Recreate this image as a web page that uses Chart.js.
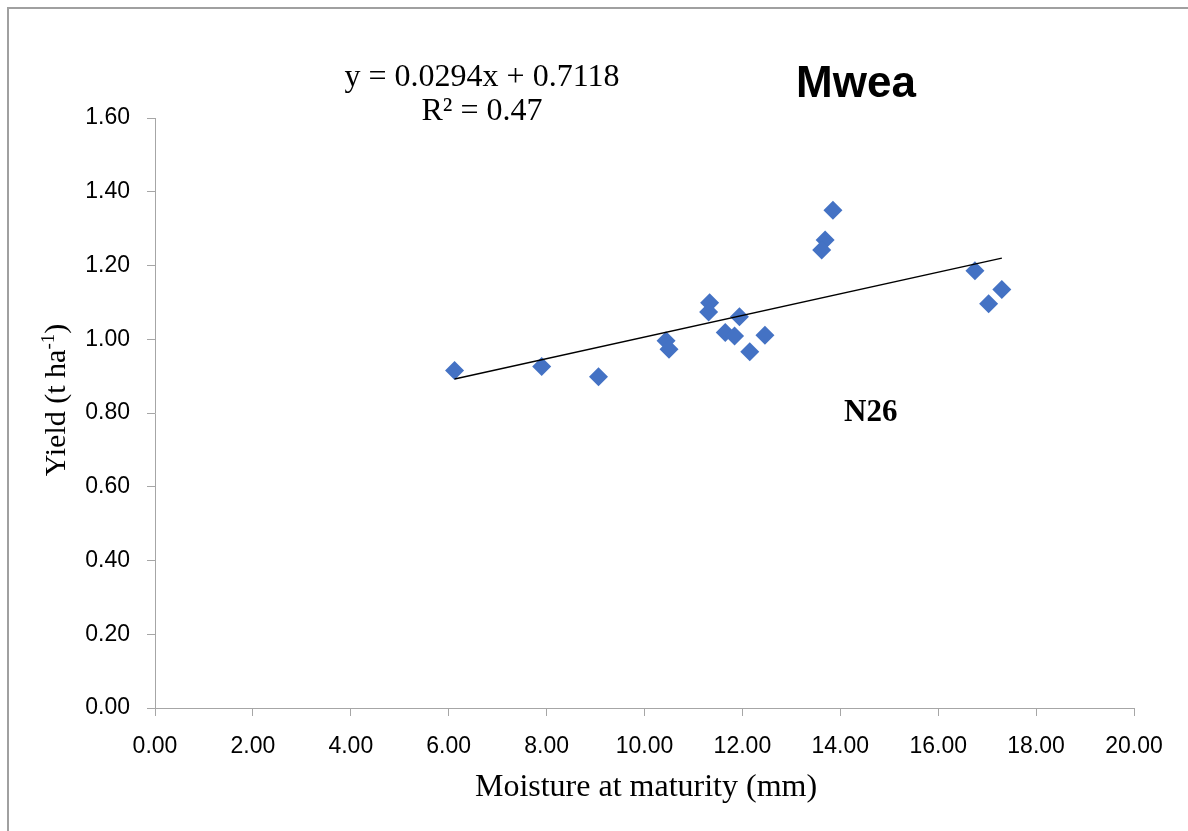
<!DOCTYPE html>
<html>
<head>
<meta charset="utf-8">
<script src="https://cdn.jsdelivr.net/npm/chart.js@4.4.1/dist/chart.umd.min.js"></script>
<style>
  html, body { margin: 0; padding: 0; background: #fff; }
  #wrap { width: 1188px; height: 831px; }
</style>
</head>
<body>
<div id="wrap"><canvas id="chart" width="1188" height="831"></canvas></div>
<script>
// values
const moisture = [6.12, 7.90, 9.06, 10.44, 10.50, 11.33, 11.31, 11.94, 11.65, 11.84, 12.46, 12.15, 13.85, 13.69, 13.62, 16.75, 17.30, 17.03];
const yieldVals = [0.915, 0.926, 0.898, 0.996, 0.973, 1.099, 1.074, 1.061, 1.018, 1.009, 1.011, 0.966, 1.350, 1.269, 1.242, 1.186, 1.135, 1.096];

// trend line ends (y = 0.0294x + 0.7118)
const trendX = [6.12, 17.30];
const trendY = [0.892, 1.220];

const equationText = 'y = 0.0294x + 0.7118';
const r2Text = 'R² = 0.47';
const siteText = 'Mwea';
const varietyText = 'N26';
const xTitle = 'Moisture at maturity (mm)';

const axisGray = '#a6a6a6';
const serif = '"Liberation Serif", "Times New Roman", serif';
const sans = '"Liberation Sans", Arial, sans-serif';

// frame, titles and notes drawn on the canvas
const decorations = {
    id: 'decorations',
    afterDraw(chart) {
        const ctx = chart.ctx;
        ctx.save();
        // outer frame (only top and left are visible)
        ctx.strokeStyle = '#a0a0a0';
        ctx.lineWidth = 2;
        ctx.beginPath();
        ctx.moveTo(8, 831);
        ctx.lineTo(8, 8);
        ctx.lineTo(1188, 8);
        ctx.stroke();

        ctx.fillStyle = '#000';
        ctx.textAlign = 'center';
        ctx.textBaseline = 'alphabetic';
        ctx.font = '32px ' + serif;
        ctx.fillText(equationText, 482, 86);
        ctx.fillText(r2Text, 482, 120);

        ctx.font = 'bold 44px ' + sans;
        ctx.fillText(siteText, 856, 97);

        ctx.textAlign = 'left';
        ctx.font = 'bold 31px ' + serif;
        ctx.fillText(varietyText, 844, 421);

        // x axis title
        ctx.textAlign = 'center';
        ctx.font = '32px ' + serif;
        ctx.fillText(xTitle, 646, 796);

        // y axis title with superscript
        ctx.translate(65, 400);
        ctx.rotate(-Math.PI / 2);
        const partA = 'Yield (t ha', sup = '-1', partB = ')';
        ctx.font = '30px ' + serif;
        const wA = ctx.measureText(partA).width;
        const wB = ctx.measureText(partB).width;
        ctx.font = '19px ' + serif;
        const wS = ctx.measureText(sup).width;
        let x = -(wA + wS + wB) / 2;
        ctx.textAlign = 'left';
        ctx.font = '30px ' + serif;
        ctx.fillText(partA, x, 0);
        x += wA;
        ctx.font = '19px ' + serif;
        ctx.fillText(sup, x, -11);
        x += wS;
        ctx.font = '30px ' + serif;
        ctx.fillText(partB, x, 0);
        ctx.restore();
    }
};

new Chart(document.getElementById('chart'), {
    type: 'scatter',
    data: {
        datasets: [
            {
                label: 'Yield',
                data: moisture.map((m, i) => ({x: m, y: yieldVals[i]})),
                pointStyle: 'rectRot',
                pointRadius: 9.5,
                pointBackgroundColor: '#4472C4',
                pointBorderWidth: 0,
                order: 2
            },
            {
                type: 'line',
                label: 'Trend',
                data: trendX.map((t, i) => ({x: t, y: trendY[i]})),
                borderColor: '#000',
                borderWidth: 1.5,
                pointRadius: 0,
                fill: false,
                order: 1
            }
        ]
    },
    options: {
        responsive: false,
        animation: false,
        devicePixelRatio: 1,
        layout: { padding: { left: 0, top: 118, right: 54, bottom: 0 } },
        plugins: { legend: { display: false }, tooltip: { enabled: false } },
        scales: {
            x: {
                type: 'linear', min: 0, max: 20,
                afterFit: (s) => { s.height = 123; },
                border: { color: axisGray, width: 1 },
                grid: { drawOnChartArea: false, drawTicks: true, tickLength: 8, color: axisGray },
                ticks: { stepSize: 2, padding: 17, color: '#000', font: { family: sans, size: 23 },
                    callback: (v) => Number(v).toFixed(2) }
            },
            y: {
                type: 'linear', min: 0, max: 1.6,
                afterFit: (s) => { s.width = 155; },
                border: { color: axisGray, width: 1 },
                grid: { drawOnChartArea: false, drawTicks: true, tickLength: 8, color: axisGray },
                ticks: { stepSize: 0.2, padding: 17, color: '#000', font: { family: sans, size: 23 },
                    callback: (v) => Number(v).toFixed(2) }
            }
        }
    },
    plugins: [decorations]
});
</script>
</body>
</html>
